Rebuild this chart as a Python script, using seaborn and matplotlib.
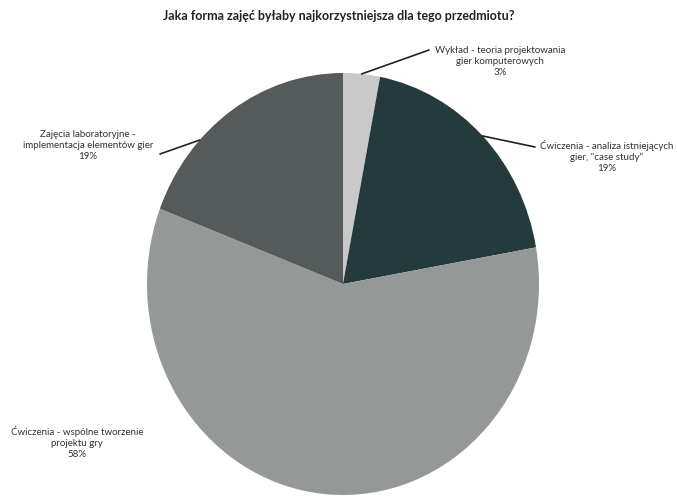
import numpy as np
import matplotlib
matplotlib.use("Agg")
import matplotlib.pyplot as plt
import seaborn as sns

sns.set_theme(style="white")
plt.rcParams["font.family"] = ["Lato", "DejaVu Sans"]

title = "Jaka forma zajęć byłaby najkorzystniejsza dla tego przedmiotu?"
categories = [
    "Wykład - teoria projektowania\ngier komputerowych",
    "Ćwiczenia - analiza istniejących\ngier, \"case study\"",
    "Ćwiczenia - wspólne tworzenie\nprojektu gry",
    "Zajęcia laboratoryjne -\nimplementacja elementów gier",
]
values = [3, 19, 58, 19]
colors = ["#c9c9c9", "#243a3d", "#949998", "#555b5b"]

W, H = 677, 497
fig = plt.figure(figsize=(W / 100, H / 100), dpi=100)


def fx(x):
    return x / W


def fy(y):
    return 1 - y / H


# pie occupies a slightly tall box
left, right, top, bottom = 147, 539, 73, 495
ax = fig.add_axes([fx(left), fy(bottom), fx(right - left), fy(top) - fy(bottom)])
wedges, _ = ax.pie(values, colors=colors, startangle=90, counterclock=False,
                   wedgeprops=dict(linewidth=0))
ax.set_aspect("auto")
ax.set_xlim(-1, 1)
ax.set_ylim(-1, 1)
ax.axis("off")

fig.text(0.5, fy(16), title, ha="center", va="center", fontsize=9.0,
         fontweight="bold", color="#222222")

# label centre x and first-line y, in figure pixels
label_pos = [(500, 46), (607, 140), (77, 426), (88, 130)]
for (cx, cy), cat, v in zip(label_pos, categories, values):
    txt = f"{cat}\n{v}%"
    fig.text(fx(cx), fy(cy), txt, ha="center", va="top", fontsize=7.0,
             color="#333333", linespacing=1.3)

# leader lines: wedge index, position along the wedge arc, label end (pixels)
leaders = [(0, 0.5, (429, 50)), (1, 0.5, (535, 147)), (3, 0.68, (160, 154))]
for i, frac, (tx, ty) in leaders:
    w = wedges[i]
    ang = np.deg2rad(w.theta1 + frac * (w.theta2 - w.theta1))
    xy = (np.cos(ang), np.sin(ang))
    ax.annotate("", xy=xy, xycoords="data",
                xytext=(fx(tx), fy(ty)), textcoords="figure fraction",
                arrowprops=dict(arrowstyle="-", color="#222222", lw=1.2,
                                shrinkA=0, shrinkB=0))

fig.savefig("out.png", dpi=100)
